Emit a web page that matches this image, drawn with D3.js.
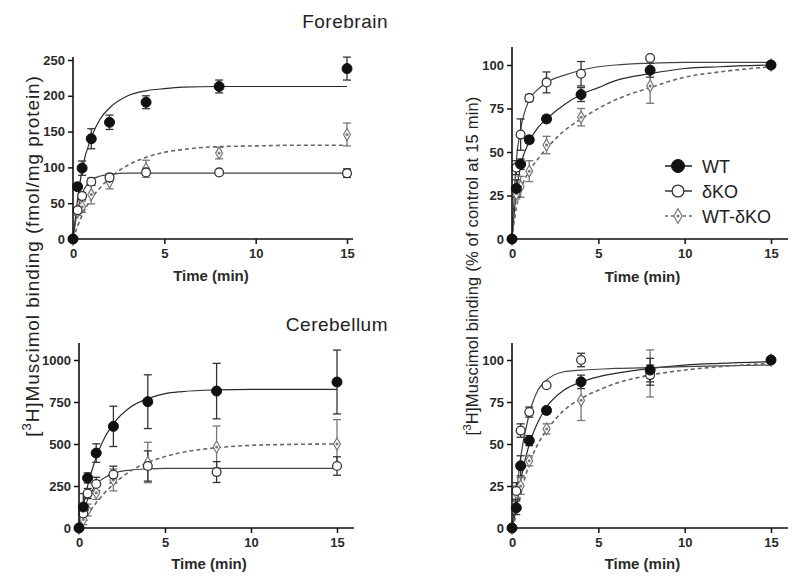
<!DOCTYPE html>
<html>
  <head>
    <meta charset="utf-8">
    <title></title>
    <script type="text/javascript" src="https://d3js.org/d3.v7.min.js"></script>
    <style media="screen">
      body { margin: 0; background: #fff; }
      text { font-family: Arial, "Liberation Sans", sans-serif; }
    </style>
  </head>
  <body>
    <div class="vis">
    </div>
    <script type="text/javascript">
      // sampling times (min)
      var times = [0, 0.25, 0.5, 1, 2, 4, 8, 15];
      var fitTimes = [0, 0.25, 0.5, 1, 1.5, 2, 3, 4, 5, 6, 8, 10, 12, 15];
      var seriesNames = ["WT", "\u03b4KO", "WT-\u03b4KO"];

      var xTicks = [0, 5, 10, 15];
      var yTicksFb = [0, 50, 100, 150, 200, 250];
      var yTicksCb = [0, 250, 500, 750, 1000];
      var yTicksPct = [0, 25, 50, 75, 100];

      // Forebrain, fmol/mg protein  (rows: WT, dKO, WT-dKO)
      var fbMean = [
        [0, 73, 99, 140, 163, 191, 213, 238],
        [0, 40, 60, 80, 86, 93, 93, 92],
        [0, 38, 45, 62, 80, 98, 120, 146]
      ];
      var fbErr = [
        [0, 4, 10, 14, 10, 9, 9, 16],
        [0, 4, 5, 5, 5, 4, 1, 6],
        [0, 5, 8, 13, 10, 12, 8, 16]
      ];
      var fbFit = [
        [0, 55, 97, 142, 168, 183, 200, 207, 210, 212, 213, 213, 213, 213],
        [0, 40, 63, 82, 88, 90, 92, 92, 92, 92, 92, 92, 92, 92],
        [0, 18, 33, 56, 72, 85, 103, 114, 121, 125, 129, 130, 131, 131]
      ];

      // Forebrain, % of control at 15 min
      var fbPctMean = [
        [0, 29, 43, 57, 69, 83, 97, 100],
        [0, 41, 60, 81, 90, 95, 104, 100],
        [0, 26, 30, 39, 54, 70, 88, 100]
      ];
      var fbPctErr = [
        [0, 5, 3, 2, 2, 4, 4, 0],
        [0, 4, 9, 2, 6, 7, 1, 0],
        [0, 3, 6, 6, 5, 5, 10, 0]
      ];
      var fbPctFit = [
        [0, 27, 42, 56, 64, 69, 77, 83, 87, 91, 95, 98, 99, 100],
        [0, 45, 63, 80, 86, 90, 94, 97, 99, 100, 101, 101.5, 101.5, 101.5],
        [0, 18, 28, 39, 46, 52, 62, 69, 75, 80, 87, 93, 96, 99]
      ];

      // Cerebellum, fmol/mg protein
      var cbMean = [
        [0, 125, 298, 446, 605, 752, 815, 869],
        [0, 87, 205, 262, 318, 369, 333, 369],
        [0, 50, 107, 210, 286, 390, 482, 500]
      ];
      var cbErr = [
        [0, 80, 30, 55, 120, 160, 165, 190],
        [0, 40, 30, 40, 50, 90, 62, 55],
        [0, 30, 35, 40, 65, 120, 125, 145]
      ];
      var cbFit = [
        [0, 130, 250, 420, 540, 620, 720, 770, 800, 812, 822, 825, 825, 825],
        [0, 90, 170, 260, 300, 325, 345, 352, 355, 355, 355, 355, 355, 355],
        [0, 40, 80, 150, 210, 260, 340, 390, 425, 450, 478, 492, 497, 500]
      ];

      // Cerebellum, % of control at 15 min
      var cbPctMean = [
        [0, 12, 37, 52, 70, 87, 94, 100],
        [0, 22, 58, 69, 85, 100, 91, 100],
        [0, 21, 25, 40, 59, 76, 92, 100]
      ];
      var cbPctErr = [
        [0, 4, 6, 3, 2, 4, 7, 0],
        [0, 5, 4, 3, 1, 4, 6, 0],
        [0, 4, 5, 3, 3, 12, 14, 0]
      ];
      var cbPctFit = [
        [0, 12, 28, 50, 63, 72, 82, 87, 90, 92, 95, 97, 98, 99],
        [0, 20, 42, 68, 82, 88, 93, 94, 94.5, 95, 95.5, 96, 96.5, 97],
        [0, 8, 20, 38, 50, 58, 70, 77, 82, 86, 91, 94, 96, 98]
      ];

      var w = 800;
      var h = 582;

      var svg = d3.select('body')
        .append('svg')
        .attr('width', w)
        .attr('height', h);

      var panels = [
        { mean: fbMean, err: fbErr, fit: fbFit, yTicks: yTicksFb,
          x0: 73, x15: 347, xEnd: 353, y0: 239, yTopPx: 60, yLineTop: 57, xTitleY: 281 },
        { mean: fbPctMean, err: fbPctErr, fit: fbPctFit, yTicks: yTicksPct,
          x0: 512, x15: 771, xEnd: 788, y0: 239, yTopPx: 65, yLineTop: 47, xTitleY: 282 },
        { mean: cbMean, err: cbErr, fit: cbFit, yTicks: yTicksCb,
          x0: 79, x15: 337, xEnd: 354, y0: 528, yTopPx: 360, yLineTop: 343, xTitleY: 569 },
        { mean: cbPctMean, err: cbPctErr, fit: cbPctFit, yTicks: yTicksPct,
          x0: 512, x15: 771, xEnd: 788, y0: 528, yTopPx: 360, yLineTop: 343, xTitleY: 569 }
      ];

      var lineColor = ['#2a2a2a', '#444', '#666'];
      var dashes = [null, null, '4,3'];

      function drawMarker(g, i, x, y, big) {
        var r = big ? 6.5 : 5;
        if (i === 0) {
          g.append('circle').attr('cx', x).attr('cy', y).attr('r', r)
            .attr('fill', '#111').attr('stroke', '#111');
        } else if (i === 1) {
          g.append('circle').attr('cx', x).attr('cy', y).attr('r', r - 0.6)
            .attr('fill', '#fff').attr('stroke', '#333').attr('stroke-width', 1.3);
        } else {
          g.append('path')
            .attr('d', d3.symbol().type(d3.symbolDiamond).size(big ? 60 : 42)())
            .attr('transform', 'translate(' + x + ',' + y + ')')
            .attr('fill', '#fff').attr('stroke', '#777').attr('stroke-width', 1.2);
          g.append('circle').attr('cx', x).attr('cy', y).attr('r', 1.5).attr('fill', '#777');
        }
      }

      panels.forEach(function(p) {
        var xscale = d3.scaleLinear().domain([0, 15]).range([p.x0, p.x15]);
        var top = p.yTicks[p.yTicks.length - 1];
        var yscale = d3.scaleLinear().domain([0, top]).range([p.y0, p.yTopPx]);
        var g = svg.append('g');

        // fitted curves
        var line = d3.line()
          .x(function(d) { return xscale(d[0]); })
          .y(function(d) { return yscale(d[1]); })
          .curve(d3.curveMonotoneX);
        p.fit.forEach(function(f, i) {
          g.append('path')
            .datum(fitTimes.map(function(t, k) { return [t, f[k]]; }))
            .attr('d', line)
            .attr('fill', 'none')
            .attr('stroke', lineColor[i])
            .attr('stroke-width', i === 2 ? 1.6 : 1.2)
            .attr('stroke-dasharray', dashes[i]);
        });

        // error bars
        [2, 1, 0].forEach(function(i) {
          times.forEach(function(t, k) {
            var e = p.err[i][k];
            if (!e) return;
            var x = xscale(t);
            var y1 = yscale(p.mean[i][k] - e), y2 = yscale(p.mean[i][k] + e);
            var c = i === 2 ? '#777' : '#333';
            g.append('line').attr('x1', x).attr('x2', x).attr('y1', y1).attr('y2', y2)
              .attr('stroke', c).attr('stroke-width', 1.3);
            [y1, y2].forEach(function(yy) {
              g.append('line').attr('x1', x - 4).attr('x2', x + 4).attr('y1', yy).attr('y2', yy)
                .attr('stroke', c).attr('stroke-width', 1.3);
            });
          });
        });

        // points
        [2, 1, 0].forEach(function(i) {
          times.forEach(function(t, k) {
            drawMarker(g, i, xscale(t), yscale(p.mean[i][k]), false);
          });
        });

        // axes
        var xAxis = d3.axisBottom(xscale).tickValues(xTicks).tickSize(5).tickPadding(5)
          .tickSizeOuter(0).tickFormat(d3.format('d'));
        var yAxis = d3.axisLeft(yscale).tickValues(p.yTicks).tickSize(5).tickPadding(3)
          .tickSizeOuter(0).tickFormat(d3.format('d'));
        var ga = svg.append('g').attr('transform', 'translate(0,' + p.y0 + ')').call(xAxis);
        var gy = svg.append('g').attr('transform', 'translate(' + p.x0 + ',0)').call(yAxis);
        [ga, gy].forEach(function(a) {
          a.select('.domain').remove();
          a.selectAll('line').attr('stroke', '#111').attr('stroke-width', 1.5);
          a.selectAll('text').attr('fill', '#2a2a2a').attr('font-size', 13)
            .attr('font-weight', 'bold').attr('font-family', 'Arial, "Liberation Sans", sans-serif');
        });
        svg.append('path')
          .attr('d', 'M' + p.x0 + ',' + p.yLineTop + 'V' + p.y0 + 'H' + p.xEnd)
          .attr('fill', 'none').attr('stroke', '#111').attr('stroke-width', 1.6);

        svg.append('text')
          .attr('x', (p.x0 + p.x15) / 2 + 1)
          .attr('y', p.xTitleY)
          .attr('text-anchor', 'middle')
          .attr('font-size', 15).attr('font-weight', 'bold').attr('fill', '#2a2a2a')
          .text('Time (min)');
      });

      // panel titles
      [['Forebrain', 28], ['Cerebellum', 331]].forEach(function(t) {
        svg.append('text').attr('x', 388).attr('y', t[1])
          .attr('text-anchor', 'end').attr('font-size', 19).attr('letter-spacing', 0.5)
          .attr('fill', '#222').text(t[0]);
      });

      // y-axis titles
      function yTitle(x, y, size, spacing, rest) {
        var t = svg.append('text')
          .attr('transform', 'translate(' + x + ',' + y + ') rotate(-90)')
          .attr('text-anchor', 'middle').attr('font-size', size)
          .attr('letter-spacing', spacing).attr('fill', '#222');
        t.append('tspan').text('[');
        t.append('tspan').attr('font-size', size * 0.7).attr('dy', -size * 0.4).text('3');
        t.append('tspan').attr('dy', size * 0.4).text('H]Muscimol binding ' + rest);
      }
      yTitle(39, 256, 19, 0.9, '(fmol/mg protein)');
      yTitle(478, 266, 16.5, 0.2, '(% of control at 15 min)');

      // legend
      var legY = [166, 191, 216];
      seriesNames.forEach(function(name, i) {
        var lg = svg.append('g');
        lg.append('line').attr('x1', 665).attr('x2', 692).attr('y1', legY[i]).attr('y2', legY[i])
          .attr('stroke', lineColor[i]).attr('stroke-width', 1.6)
          .attr('stroke-dasharray', i === 2 ? '3,3' : null);
        drawMarker(lg, i, 678, legY[i], true);
        lg.append('text').attr('x', 702).attr('y', legY[i] + 7)
          .attr('font-size', 18).attr('fill', '#222').text(name);
      });
    </script>
  </body>
</html>
